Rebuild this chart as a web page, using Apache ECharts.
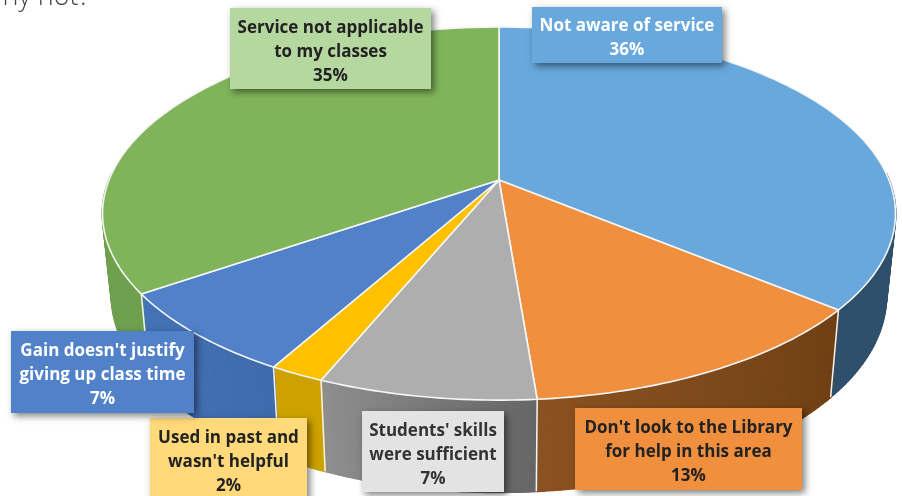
<!DOCTYPE html>
<html><head><meta charset="utf-8">
<style>html,body{margin:0;padding:0;background:#fff}#c{width:902px;height:496px}</style>
<script src="https://cdn.jsdelivr.net/npm/echarts@6/dist/echarts.min.js"></script>
</head><body><div id="c"></div>
<script>
const categories = ["Not aware of service","Don't look to the Library\nfor help in this area","Students' skills\nwere sufficient","Used in past and\nwasn't helpful","Gain doesn't justify\ngiving up class time","Service not applicable\nto my classes"];
const shares = [36, 12.72, 7.49, 1.89, 7.3, 34.6];
const topColors = ['#68a8dc','#f08f3e','#aeaeae','#ffc000','#5081c9','#80b45a'];
const wallFrom = ['#2f506b','#6f4014','#666666','#cda200','#3f6bac','#6fa04e'];
const wallTo = ['#2f506b','#8a5220','#8e8e8e','#cda200','#4474b6','#6fa04e'];
const boxColors = ['#68a8dc','#f08f3e','#e3e3e3','#ffd97a','#5081c9','#b5d7a0'];
const textColors = ['#ffffff','#222222','#333333','#222222','#ffffff','#222222'];
const boxes = [[532,7,190,56],[575,408,227,82],[362,411,142,81],[150,418,157,82],[11,331,183,82],[230,8,201,81]];
const pageNote = 'Why not?';

const P = {cx:499, cy:180, R:390, k:180.5, p:0.18};
function topPt(deg){
  const t = deg*Math.PI/180, d = 1+P.p*Math.cos(t);
  return [P.cx+P.R*Math.sin(t)/d, P.cy-P.k*Math.cos(t)/d];
}
function botPt(deg){
  const q = topPt(deg);
  return [P.cx+0.977*(q[0]-P.cx), 260+1.055*(q[1]-P.cy)];
}
const total = shares.reduce((a,b)=>a+b,0);
let run = 0;
const spans = shares.map(v=>{const s=run/total*360; run+=v; return [s,run/total*360];});
function arc(fn,a,b){
  const out=[], n=Math.max(2,Math.ceil(Math.abs(b-a)));
  for(let i=0;i<=n;i++) out.push(fn(a+(b-a)*i/n));
  return out;
}
const seriesData = shares.map((v,i)=>({name:categories[i],value:v}));
const FRONT_FROM = 88, FRONT_TO = 272;

const chart = echarts.init(document.getElementById('c'),null,{renderer:'canvas'});
chart.setOption({
  animation:false,
  backgroundColor:'#ffffff',
  series:[
    {type:'custom',coordinateSystem:'none',silent:true,z:1,data:seriesData,
     renderItem(params){
       const i=params.dataIndex,[a0,b0]=spans[i];
       const a=Math.max(a0,FRONT_FROM),b=Math.min(b0,FRONT_TO);
       const tops=arc(topPt,a,b),bots=arc(botPt,a,b),kids=[];
       for(let j=0;j<tops.length-1;j++){
         const col=echarts.color.lerp(j/(tops.length-2||1),[wallFrom[i],wallTo[i]]);
         kids.push({type:'polygon',shape:{points:[tops[j],tops[j+1],bots[j+1],bots[j]]},style:{fill:col,stroke:col,lineWidth:2,lineJoin:'round'}});
       }
       if(a0>=FRONT_FROM){
         const s0=topPt(a),s1=botPt(a);
         kids.push({type:'line',shape:{x1:s0[0],y1:s0[1],x2:s1[0],y2:s1[1]},style:{stroke:'#f4f4f4',lineWidth:1.5}});
       }
       return {type:'group',children:kids};
     }},
    {type:'custom',coordinateSystem:'none',silent:true,z:2,data:seriesData,
     renderItem(params){
       const i=params.dataIndex,[a,b]=spans[i];
       const pts=[[P.cx,P.cy]].concat(arc(topPt,a,b));
       return {type:'polygon',shape:{points:pts},style:{fill:topColors[i],stroke:'#f6f6f6',lineWidth:1.6,lineJoin:'round'}};
     }},
    {type:'custom',coordinateSystem:'none',silent:true,z:3,data:seriesData,
     renderItem(params,api){
       const i=params.dataIndex,[x,y,w,h]=boxes[i];
       const txt=categories[i]+'\n'+Math.round(api.value(0))+'%';
       return {type:'group',children:[
         {type:'rect',shape:{x,y,width:w,height:h},style:{fill:boxColors[i],shadowColor:'rgba(0,0,0,0.5)',shadowBlur:7,shadowOffsetX:3,shadowOffsetY:3}},
         {type:'text',style:{x:x+w/2,y:y+h/2+3.5,text:txt,align:'center',verticalAlign:'middle',fill:textColors[i],font:'700 17px "Open Sans"',lineHeight:24}}
       ]};
     }}
  ],
  graphic:[{type:'text',style:{x:90,y:11,text:pageNote,align:'right',verticalAlign:'bottom',fill:'#444444',font:'300 27px "Open Sans"'},z:5,silent:true}]
});
</script></body></html>
